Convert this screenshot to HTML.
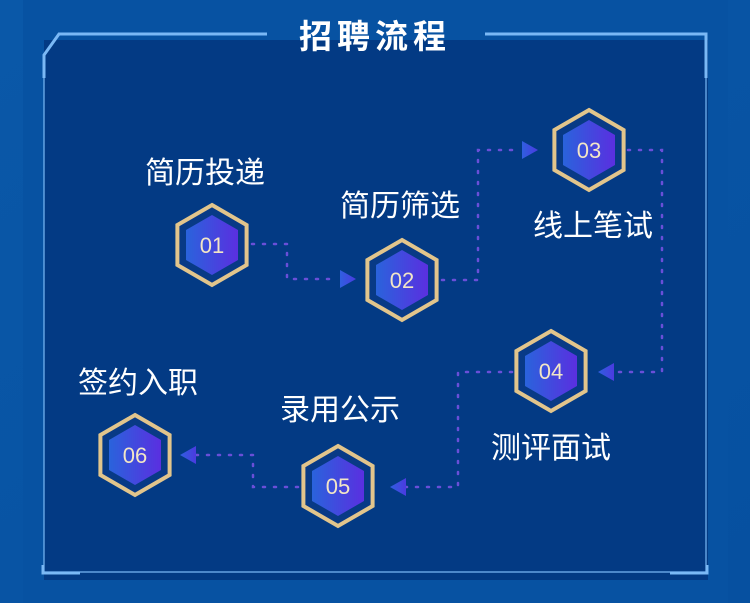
<!DOCTYPE html>
<html><head><meta charset="utf-8"><style>
html,body{margin:0;padding:0;width:750px;height:603px;overflow:hidden;background:#0650a0}
svg{display:block}
text{font-family:"Liberation Sans","Noto Sans CJK SC",sans-serif}
</style></head><body>
<svg width="750" height="603" viewBox="0 0 750 603">
<defs>
<linearGradient id="bg" x1="0" y1="0" x2="1" y2="1"><stop offset="0" stop-color="#0a58a8"/><stop offset="1" stop-color="#0650a0"/></linearGradient>
<linearGradient id="hx" x1="0" y1="0" x2="1" y2="0"><stop offset="0" stop-color="#2a63dc"/><stop offset="1" stop-color="#5a2fe0"/></linearGradient>
<linearGradient id="ar" x1="0" y1="0" x2="1" y2="0"><stop offset="0" stop-color="#2f5fe0"/><stop offset="1" stop-color="#4b3be0"/></linearGradient>
<g id="hex">
<polygon points="0,-40 34.6,-20 34.6,20 0,40 -34.6,20 -34.6,-20" fill="#083a86" stroke="#e2c58c" stroke-width="4"/>
<polygon points="0,-30 26,-15 26,15 0,30 -26,15 -26,-15" fill="url(#hx)"/>
</g>
</defs>
<rect width="750" height="603" fill="url(#bg)"/>
<rect x="23" y="0" width="705" height="603" fill="#0752a2"/>
<rect x="44" y="40" width="664" height="540" fill="#033a84"/>
<g fill="none" stroke="#7ab8f5">
<path d="M267,34 H59 L44,55 V78" stroke-width="3"/>
<path d="M485,34 H706 V78" stroke-width="3"/>
<path d="M44,78 V572 M706,78 V572 M44,572 H706" stroke-width="1.2"/>
<path d="M43,565 V573 H80 M707,565 V573 H670" stroke-width="3"/>
</g>
<text x="375" y="48" text-anchor="middle" fill="#fff" font-size="33" font-weight="bold" letter-spacing="5">招聘流程</text>
<g fill="none" stroke="#6a4fd8" stroke-width="2.5" stroke-dasharray="2 9" stroke-linecap="round">
<path d="M252,244 H287 V279 H338"/>
<path d="M442,280 H478 V150 H520"/>
<path d="M628,150 H662 V372 H612"/>
<path d="M512,372 H458 V487 H405"/>
<path d="M298,487 H253 V455 H195"/>
</g>
<g fill="url(#ar)">
<polygon points="340,270 356,279 340,288"/>
<polygon points="522,141 538,150 522,159"/>
<polygon points="614,363 598,372 614,381"/>
<polygon points="406,478 390,487 406,496"/>
<polygon points="196,446 180,455 196,464"/>
</g>
<use href="#hex" x="212" y="245"/>
<use href="#hex" x="402" y="280"/>
<use href="#hex" x="589" y="150"/>
<use href="#hex" x="551" y="371"/>
<use href="#hex" x="338" y="486"/>
<use href="#hex" x="135" y="455"/>
<g fill="#f3e6c6" font-size="22" text-anchor="middle">
<text x="212" y="253">01</text>
<text x="402" y="288">02</text>
<text x="589" y="158">03</text>
<text x="551" y="379">04</text>
<text x="338" y="494">05</text>
<text x="135" y="463">06</text>
</g>
<g fill="#fff" font-size="30">
<text x="145" y="183">简历投递</text>
<text x="340" y="216">简历筛选</text>
<text x="533" y="236">线上笔试</text>
<text x="491" y="458">测评面试</text>
<text x="280" y="420">录用公示</text>
<text x="78" y="393">签约入职</text>
</g>
</svg>
</body></html>
